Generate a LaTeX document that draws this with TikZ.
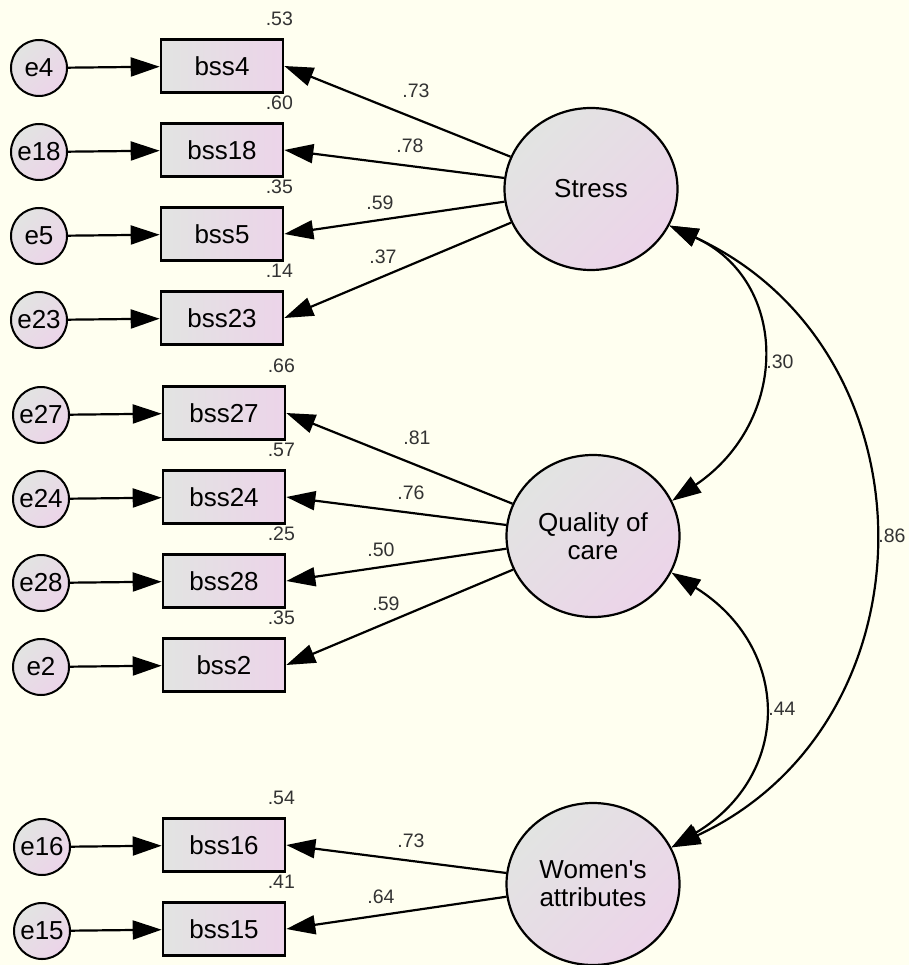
\documentclass[tikz,border=0pt]{standalone}
\usepackage{fontspec}
\setmainfont{Liberation Sans}
\usepackage{tikz}
\usetikzlibrary{arrows.meta,shapes.geometric}

\definecolor{paper}{RGB}{255,255,240}
\definecolor{shadel}{RGB}{226,228,226}
\definecolor{shader}{RGB}{236,212,233}

\begin{document}
\begin{tikzpicture}[x=1pt,y=-1pt,>={Triangle[length=29pt,width=19pt]},
  obs/.style={draw,line width=2.6pt,minimum width=122pt,minimum height=53pt,
    inner sep=0pt,left color=shadel,right color=shader,font=\fontsize{26}{28}\selectfont},
  err/.style={draw,circle,line width=2pt,minimum size=56pt,inner sep=0pt,
    top color=shadel,bottom color=shader,shading angle=45,font=\fontsize{26}{28}\selectfont},
  lat/.style={draw,ellipse,line width=2.2pt,minimum width=173pt,minimum height=162pt,
    inner sep=0pt,top color=shadel,bottom color=shader,shading angle=45,align=center,
    font=\fontsize{26}{28}\selectfont},
  num/.style={font=\fontsize{19.5}{22}\selectfont,text=black!80},
  path/.style={->,line width=2.2pt},
  cov/.style={<->,line width=2.2pt}]
  \fill[paper] (0,0) rectangle (909,965);
  \useasboundingbox (0,0) rectangle (909,965);

  % latent variables
  \node[lat] (Stress) at (591,189) {Stress};
  \node[lat] (Quality) at (593,536) {Quality of\\care};
  \node[lat] (Women) at (593,884) {Women\textquotesingle s\\attributes};

  % indicators
  \node[obs] (bss4) at (222,66) {bss4};
  \node[obs] (bss18) at (222,150) {bss18};
  \node[obs] (bss5) at (222,234) {bss5};
  \node[obs] (bss23) at (222,318) {bss23};
  \node[obs] (bss27) at (224,413) {bss27};
  \node[obs] (bss24) at (224,497) {bss24};
  \node[obs] (bss28) at (224,581) {bss28};
  \node[obs] (bss2) at (224,665) {bss2};
  \node[obs] (bss16) at (224,845) {bss16};
  \node[obs] (bss15) at (224,929) {bss15};

  % error terms
  \node[err] (e4) at (39,68) {e4};
  \node[err] (e18) at (39,152) {e18};
  \node[err] (e5) at (39,236) {e5};
  \node[err] (e23) at (39,320) {e23};
  \node[err] (e27) at (41,415) {e27};
  \node[err] (e24) at (41,499) {e24};
  \node[err] (e28) at (41,583) {e28};
  \node[err] (e2) at (41,667) {e2};
  \node[err] (e16) at (42,847) {e16};
  \node[err] (e15) at (42,931) {e15};

  \draw[path] (e4)--(bss4);   \draw[path] (e18)--(bss18);
  \draw[path] (e5)--(bss5);   \draw[path] (e23)--(bss23);
  \draw[path] (e27)--(bss27); \draw[path] (e24)--(bss24);
  \draw[path] (e28)--(bss28); \draw[path] (e2)--(bss2);
  \draw[path] (e16)--(bss16); \draw[path] (e15)--(bss15);

  % loadings
  \draw[path] (Stress)--(bss4.east);   \draw[path] (Stress)--(bss18.east);
  \draw[path] (Stress)--(bss5.east);   \draw[path] (Stress)--(bss23.east);
  \draw[path] (Quality)--(bss27.east); \draw[path] (Quality)--(bss24.east);
  \draw[path] (Quality)--(bss28.east); \draw[path] (Quality)--(bss2.east);
  \draw[path] (Women)--(bss16.east);   \draw[path] (Women)--(bss15.east);

  \node[num] (l4) at (416,91) {.73};
  \node[num] (l18) at (410,146) {.78};
  \node[num] (l5) at (380,203) {.59};
  \node[num] (l23) at (383,257) {.37};
  \node[num] (l27) at (417,438) {.81};
  \node[num] (l24) at (411,493) {.76};
  \node[num] (l28) at (381,550) {.50};
  \node[num] (l2) at (386,604) {.59};
  \node[num] (l16) at (411,841) {.73};
  \node[num] (l15) at (381,897) {.64};

  % squared multiple correlations
  \node[num] (r4) at ([shift={(-5,-19)}]bss4.north east) {.53};
  \node[num] (r18) at ([shift={(-5,-19)}]bss18.north east) {.60};
  \node[num] (r5) at ([shift={(-5,-19)}]bss5.north east) {.35};
  \node[num] (r23) at ([shift={(-5,-19)}]bss23.north east) {.14};
  \node[num] (r27) at ([shift={(-5,-19)}]bss27.north east) {.66};
  \node[num] (r24) at ([shift={(-5,-19)}]bss24.north east) {.57};
  \node[num] (r28) at ([shift={(-5,-19)}]bss28.north east) {.25};
  \node[num] (r2) at ([shift={(-5,-19)}]bss2.north east) {.35};
  \node[num] (r16) at ([shift={(-5,-19)}]bss16.north east) {.54};
  \node[num] (r15) at ([shift={(-5,-19)}]bss15.north east) {.41};

  % correlations
  \draw[cov] (Stress.-25) .. controls (790,281) and (790,421) .. (Quality.24);
  \draw[cov] (Quality.-25) .. controls (792,648) and (792,775) .. (Women.25);
  \draw[cov] (Stress.-25) .. controls (939,350) and (939,723) .. (Women.25);
  \node[num] (c1) at (780,362) {.30};
  \node[num] (c2) at (782,709) {.44};
  \node[num] (c3) at (892,536) {.86};
\end{tikzpicture}
\end{document}
